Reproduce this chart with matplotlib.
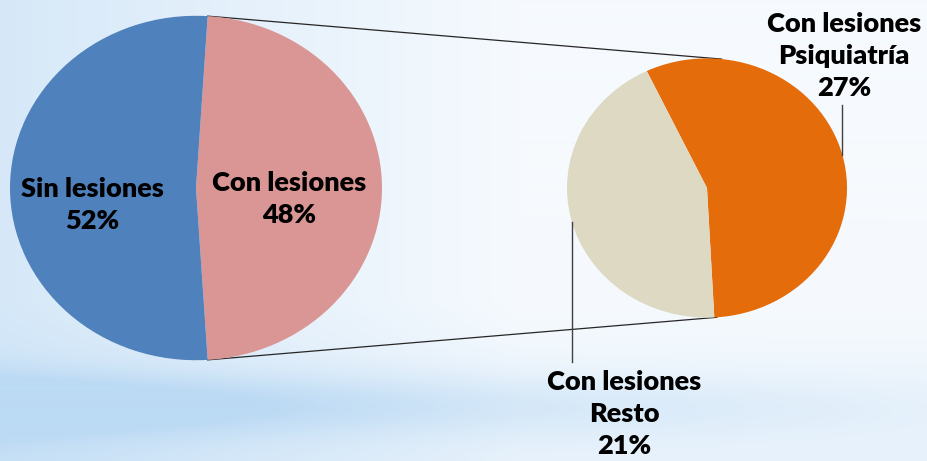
import numpy as np
import matplotlib.pyplot as plt
from matplotlib.colors import to_rgb

# data
main_labels = ["Con lesiones", "Sin lesiones"]
main_values = [48, 52]
main_colors = ["#d99694", "#4f81bd"]

sub_labels = ["Con lesiones\nPsiquiatría", "Con lesiones\nResto"]
sub_values = [27, 21]
sub_colors = ["#e46c0a", "#ddd9c3"]

W, H = 928, 461
S = 1.08  # vertical squash of the pies


def px(x, y):
    # pixel position -> data coords
    return x, (H - y) * S


fig = plt.figure(figsize=(W / 100, H / 100), dpi=100)
ax = fig.add_axes([0, 0, 1, 1])

# background gradient
yy, xx = np.mgrid[0:H, 0:W]
w = np.clip(1 - xx / 520, 0, 1) * 0.55
w += np.exp(-((yy - 405) / 32.0) ** 2) * np.clip(1 - xx / 1100, 0, 1) * 0.75
w += np.clip((yy - 300) / 160, 0, 1) * 0.25
w = np.clip(w, 0, 1)
c0 = np.array(to_rgb("#f6fafe"))
c1 = np.array(to_rgb("#bcdaf4"))
bg = c0 + (c1 - c0) * w[..., None]
ax.imshow(bg, extent=[0, W, 0, H * S], aspect="auto", zorder=0)

# main pie
lc = px(196, 188)
wl, _ = ax.pie(main_values, colors=main_colors, startangle=86.4, counterclock=False,
               center=lc, radius=186, wedgeprops=dict(linewidth=0), frame=True)
# sub pie
rc = px(707, 188)
rr = 140
ws, _ = ax.pie(sub_values, colors=sub_colors, startangle=115.5, counterclock=False,
               center=rc, radius=rr, wedgeprops=dict(linewidth=0), frame=True)
for p in wl + ws:
    p.set_zorder(2)

# connector lines from the split wedge to the sub pie
pink = wl[0]
for a_left, a_right in [(pink.theta2, 84), (pink.theta1, -86)]:
    x0 = lc[0] + 186 * np.cos(np.radians(a_left))
    y0 = lc[1] + 186 * np.sin(np.radians(a_left))
    x1 = rc[0] + rr * np.cos(np.radians(a_right))
    y1 = rc[1] + rr * np.sin(np.radians(a_right))
    ax.plot([x0, x1], [y0, y1], color="#262626", lw=0.9, zorder=1)

font = dict(family="Lato", weight="heavy", fontsize=19.5, color="black",
            ha="center", va="center", linespacing=1.42, zorder=3)

ax.text(*px(92, 205), f"{main_labels[1]}\n{main_values[1]}%", **font)
ax.text(*px(289, 199), f"{main_labels[0]}\n{main_values[0]}%", **font)
ax.text(*px(844, 56), f"{sub_labels[0]}\n{sub_values[0]}%", **font)
ax.text(*px(624, 414), f"{sub_labels[1]}\n{sub_values[1]}%", **font)

# leader lines
ax.plot(*zip(px(842, 105), px(842, 155)), color="#404040", lw=1, zorder=3)
ax.plot(*zip(px(572, 222), px(572, 362)), color="#404040", lw=1, zorder=3)

ax.set_xlim(0, W)
ax.set_ylim(0, H * S)
ax.set_aspect("auto")
ax.axis("off")

fig.savefig("out.png", dpi=100)
